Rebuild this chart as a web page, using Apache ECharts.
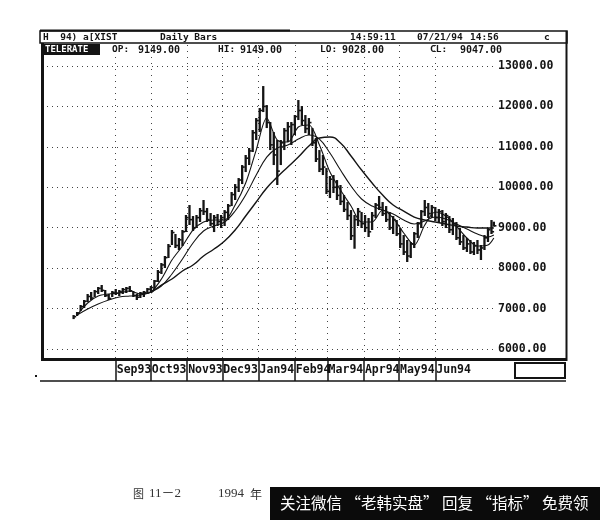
<!DOCTYPE html>
<html><head><meta charset="utf-8">
<script src="https://cdn.jsdelivr.net/npm/echarts@6/dist/echarts.min.js"></script>
<style>html,body{margin:0;padding:0;background:#fff}#c{width:600px;height:520px}</style>
</head><body><div id="c"></div><script>
// ---- data (Hang Seng style daily bars, 1993-94) ----
const barDates = [
'1993-07-27','1993-07-30',
'1993-08-02','1993-08-05','1993-08-08','1993-08-11','1993-08-14','1993-08-17','1993-08-20','1993-08-23','1993-08-26','1993-08-29',
'1993-09-01','1993-09-04','1993-09-07','1993-09-10','1993-09-13','1993-09-16','1993-09-19','1993-09-22','1993-09-25','1993-09-28',
'1993-10-01','1993-10-04','1993-10-07','1993-10-10','1993-10-13','1993-10-16','1993-10-19','1993-10-22','1993-10-25','1993-10-28','1993-10-31',
'1993-11-03','1993-11-06','1993-11-09','1993-11-12','1993-11-15','1993-11-18','1993-11-21','1993-11-24','1993-11-27','1993-11-30',
'1993-12-03','1993-12-06','1993-12-09','1993-12-12','1993-12-15','1993-12-18','1993-12-21','1993-12-24','1993-12-27','1993-12-30',
'1994-01-02','1994-01-05','1994-01-08','1994-01-11','1994-01-14','1994-01-17','1994-01-20','1994-01-23','1994-01-26','1994-01-29',
'1994-02-01','1994-02-04','1994-02-07','1994-02-10','1994-02-13','1994-02-16','1994-02-19','1994-02-22','1994-02-25','1994-02-28',
'1994-03-03','1994-03-06','1994-03-09','1994-03-12','1994-03-15','1994-03-18','1994-03-21','1994-03-24','1994-03-27','1994-03-30',
'1994-04-02','1994-04-05','1994-04-08','1994-04-11','1994-04-14','1994-04-17','1994-04-20','1994-04-23','1994-04-26','1994-04-29',
'1994-05-02','1994-05-05','1994-05-08','1994-05-11','1994-05-14','1994-05-17','1994-05-20','1994-05-23','1994-05-26','1994-05-29',
'1994-06-01','1994-06-04','1994-06-07','1994-06-10','1994-06-13','1994-06-16','1994-06-19','1994-06-22','1994-06-25','1994-06-28',
'1994-07-01','1994-07-04','1994-07-07','1994-07-10','1994-07-13','1994-07-16','1994-07-19','1994-07-21'];

const barHigh = [6840,6915,
7088,7212,7360,7410,7459,7533,7583,7459,7360,7434,
7484,7459,7509,7533,7558,7434,7360,7410,7434,7509,
7558,7706,7954,8127,8300,8597,8943,8844,8745,8943,9314,
9561,9289,9314,9487,9685,9487,9363,9314,9339,9314,
9437,9586,9883,10080,10229,10550,10798,10971,11416,11713,
11960,12504,12034,11614,11366,11169,11169,11465,11614,11614,
11787,12158,12009,11787,11713,11465,11218,10921,10798,10476,
10278,10303,10179,10056,9808,9635,9437,9314,9487,9388,
9314,9240,9388,9611,9784,9635,9536,9388,9289,9190,
8992,8819,8696,8646,8893,9141,9437,9685,9611,9561,
9512,9462,9437,9363,9289,9240,9141,8992,8819,8745,
8696,8646,8696,8572,8819,8992,9190,9149];

const barLow = [6740,6816,
6940,7014,7162,7212,7286,7360,7410,7286,7212,7286,
7335,7311,7360,7385,7410,7286,7212,7261,7286,7360,
7410,7459,7657,7855,8003,8250,8572,8498,8448,8547,8893,
9067,8918,8992,9141,9314,9141,9042,8893,9042,8992,
9042,9190,9536,9685,9883,10080,10377,10550,10872,11169,
11366,11861,11465,10921,10550,10056,10550,10921,11119,11045,
11292,11663,11540,11341,11292,11020,10625,10377,10303,9833,
9734,9858,9685,9561,9388,9190,8696,8480,9042,8992,
8893,8770,8943,9240,9437,9289,9141,8943,8844,8794,
8498,8325,8152,8250,8498,8745,8992,9289,9240,9240,
9166,9116,9042,8992,8869,8819,8696,8572,8448,8399,
8349,8325,8349,8201,8448,8646,8844,9028];

const barClose = [6800,6890,
7050,7180,7300,7260,7420,7500,7450,7320,7250,7400,
7380,7420,7470,7500,7440,7320,7280,7380,7400,7480,
7520,7680,7900,8080,8260,8540,8880,8560,8700,8900,9250,
9200,9000,9250,9420,9400,9200,9100,9250,9150,9250,
9380,9540,9820,10000,10180,10500,10720,10900,11350,11650,
11900,12000,11600,11050,10800,10400,11100,11400,11500,11550,
11750,11900,11650,11450,11600,11100,10700,10450,10500,9900,
10200,10000,9800,9650,9450,9300,8800,9200,9400,9100,
9000,8900,9300,9560,9500,9350,9200,9000,9200,8850,
8600,8400,8300,8600,8850,9100,9400,9500,9350,9500,
9250,9400,9150,9300,8950,9100,8750,8650,8500,8600,
8400,8550,8450,8500,8750,8950,8900,9047];

const maDates = ['1993-07-30','1993-08-08','1993-08-17','1993-08-26','1993-09-04','1993-09-13','1993-09-22',
'1993-10-01','1993-10-10','1993-10-19','1993-10-28','1993-11-06','1993-11-15','1993-11-24','1993-12-03','1993-12-12',
'1993-12-21','1993-12-30','1994-01-08','1994-01-17','1994-01-26','1994-02-04','1994-02-13','1994-02-22','1994-03-03',
'1994-03-12','1994-03-21','1994-03-30','1994-04-08','1994-04-17','1994-04-26','1994-05-05','1994-05-14','1994-05-23',
'1994-06-01','1994-06-10','1994-06-19','1994-06-28','1994-07-07','1994-07-16','1994-07-21'];
const maShort = [6841,7138,7311,7360,7385,7434,7360,7410,7731,8201,8547,8943,9141,9190,9190,9561,10105,10921,11713,11169,
11119,11490,11540,11045,10377,9932,9536,9141,9141,9437,9240,8869,8572,9067,9388,9289,9042,8745,8547,8572,8745];
const maMedium = [6841,6989,7113,7212,7286,7311,7335,7410,7558,7855,8226,8621,8918,9042,9141,9413,9808,10303,10748,10971,
11045,11193,11292,11193,10847,10427,10031,9710,9536,9437,9339,9190,9091,9166,9264,9215,9091,8968,8844,8770,8819];
const maLong = [null,null,null,null,null,null,null,7385,7583,7731,7929,8077,8300,8473,8671,8943,9289,9635,9982,10254,
10501,10748,11020,11218,11243,11094,10773,10427,10105,9808,9561,9413,9264,9190,9141,9091,9042,9017,8992,8992,8992];

const monthTickDates = ['1993-09-01','1993-10-01','1993-11-01','1993-12-01','1994-01-01','1994-02-01','1994-03-01','1994-04-01','1994-05-01','1994-06-01'];
const monthLabels = ['Sep93','Oct93','Nov93','Dec93','Jan94','Feb94','Mar94','Apr94','May94','Jun94'];
const priceTicks = [6000,7000,8000,9000,10000,11000,12000,13000];

// ---- build ----
const T = s => Date.parse(s);
const monthTicks = monthTickDates.map(T);
const xMin = T('1993-06-30'), xMax = T('1994-07-22');
const ink = '#141414';
const mono = '"DejaVu Sans Mono", "Liberation Mono", monospace';

const barData = barDates.map((d, i) => [T(d), barHigh[i], barLow[i], barClose[i]]);
const maSeries = (arr) => maDates.map((d, i) => [T(d), arr[i]]);

const chart = echarts.init(document.getElementById('c'), null, {renderer: 'canvas'});

function txt(text, x, y, opt) {
  return Object.assign({type: 'text', x: x, y: y, z: 100, style: Object.assign({
    text: text, fill: ink, fontFamily: mono, fontWeight: 'bold', fontSize: 9.5, verticalAlign: 'middle'
  }, opt || {})});
}
function seg(x1, y1, x2, y2, w) {
  return {type: 'line', z: 100, shape: {x1, y1, x2, y2}, style: {stroke: ink, lineWidth: w}};
}

const option = {
  animation: false,
  backgroundColor: '#fff',
  grid: [
    {left: 42, right: 105, top: 45, bottom: 161},
    {left: 42, right: 105, top: 66, bottom: 171}
  ],
  xAxis: [
    {gridIndex: 0, type: 'value', min: xMin, max: xMax,
     axisLine: {show: false},
     axisTick: {show: true, customValues: monthTicks, length: 22, lineStyle: {color: ink, width: 1.5}},
     axisLabel: {customValues: monthTicks, align: 'left', margin: 5, padding: [0, 0, 0, 1],
       fontFamily: mono, fontWeight: 'bold', fontSize: 11.5, color: ink,
       formatter: v => { const k = monthTicks.findIndex(t => Math.abs(t - v) < 3.6e6); return k >= 0 ? monthLabels[k] : ''; }},
     splitLine: {show: true, lineStyle: {type: [1, 5], color: '#444', width: 1}}},
    {gridIndex: 1, type: 'value', min: xMin, max: xMax, show: false}
  ],
  yAxis: [
    {gridIndex: 0, type: 'value', min: 0, max: 1, show: false},
    {gridIndex: 1, type: 'value', position: 'right', min: priceTicks[0], max: priceTicks[priceTicks.length - 1], interval: 1000,
     axisLine: {show: false}, axisTick: {show: false},
     axisLabel: {margin: 3, fontFamily: mono, fontWeight: 'bold', fontSize: 11.5, color: ink,
       formatter: v => v.toFixed(2)},
     splitLine: {show: true, lineStyle: {type: [1, 4], color: '#444', width: 1}}}
  ],
  series: [
    {type: 'custom', xAxisIndex: 1, yAxisIndex: 1, data: barData, z: 5,
     encode: {x: 0, y: [1, 2, 3]},
     renderItem: (params, api) => {
       const x = api.value(0);
       const pH = api.coord([x, api.value(1)]);
       const pL = api.coord([x, api.value(2)]);
       const pC = api.coord([x, api.value(3)]);
       return {type: 'group', children: [
         {type: 'line', shape: {x1: pH[0], y1: pH[1], x2: pL[0], y2: pL[1]}, style: {stroke: ink, lineWidth: 2.3}},
         {type: 'line', shape: {x1: pC[0], y1: pC[1], x2: pC[0] + 2.6, y2: pC[1]}, style: {stroke: ink, lineWidth: 1.6}}
       ]};
     }},
    {type: 'line', xAxisIndex: 1, yAxisIndex: 1, data: maSeries(maShort), smooth: 0.3, showSymbol: false, z: 6,
     lineStyle: {color: ink, width: 1.1}},
    {type: 'line', xAxisIndex: 1, yAxisIndex: 1, data: maSeries(maMedium), smooth: 0.4, showSymbol: false, z: 6,
     lineStyle: {color: ink, width: 1.1}},
    {type: 'line', xAxisIndex: 1, yAxisIndex: 1, data: maSeries(maLong), smooth: 0.5, showSymbol: false, z: 6,
     connectNulls: false, lineStyle: {color: ink, width: 1.4}}
  ],
  graphic: [
    // header box
    {type: 'rect', z: 100, shape: {x: 40, y: 31, width: 527, height: 12}, style: {fill: 'none', stroke: ink, lineWidth: 1.5}},
    seg(40, 30.5, 290, 30.5, 2),
    txt('H  94) a[XIST', 43, 37.5),
    txt('Daily Bars', 160, 37.5),
    txt('14:59:11', 350, 37.5),
    txt('07/21/94', 417, 37.5),
    txt('14:56', 470, 37.5),
    txt('c', 544, 37.5),
    // second row
    {type: 'rect', z: 100, shape: {x: 42, y: 44, width: 58, height: 11}, style: {fill: ink}},
    txt('TELERATE', 45, 49.5, {fill: '#fff', fontSize: 9}),
    txt('OP:', 112, 50), txt('9149.00', 138, 50, {fontSize: 10}),
    txt('HI:', 218, 50), txt('9149.00', 240, 50, {fontSize: 10}),
    txt('LO:', 320, 50), txt('9028.00', 342, 50, {fontSize: 10}),
    txt('CL:', 430, 50), txt('9047.00', 460, 50, {fontSize: 10}),
    // plot frame
    seg(42.5, 43, 42.5, 361, 3),
    seg(41, 359.5, 567, 359.5, 3),
    seg(566.5, 31, 566.5, 361, 2),
    seg(40, 381, 566, 381, 1.5),
    {type: 'rect', z: 100, shape: {x: 515, y: 363, width: 50, height: 15}, style: {fill: 'none', stroke: ink, lineWidth: 2}},
    {type: 'rect', z: 100, shape: {x: 35, y: 375, width: 2, height: 2}, style: {fill: ink}},
    // caption
    txt('图', 133, 494, {fontFamily: '"Noto Sans CJK SC"', fontWeight: 'normal', fontSize: 11, fill: '#333'}),
    txt('11－2', 149, 494, {fontFamily: '"Liberation Serif", "Noto Sans CJK SC"', fontWeight: 'normal', fontSize: 13, fill: '#333'}),
    txt('1994', 218, 494, {fontFamily: '"Liberation Serif"', fontWeight: 'normal', fontSize: 13, fill: '#333'}),
    txt('年', 250, 494, {fontFamily: '"Noto Sans CJK SC"', fontWeight: 'normal', fontSize: 12, fill: '#333'}),
    {type: 'rect', z: 101, shape: {x: 270, y: 487, width: 330, height: 33}, style: {fill: '#0b0b0b'}},
    {type: 'text', z: 102, x: 280, y: 503.5, style: {text: '关注微信 “老韩实盘” 回复 “指标” 免费领', fill: '#fff',
      fontFamily: '"Noto Sans CJK SC"', fontSize: 15.5, verticalAlign: 'middle'}}
  ]
};
chart.setOption(option);
</script></body></html>
